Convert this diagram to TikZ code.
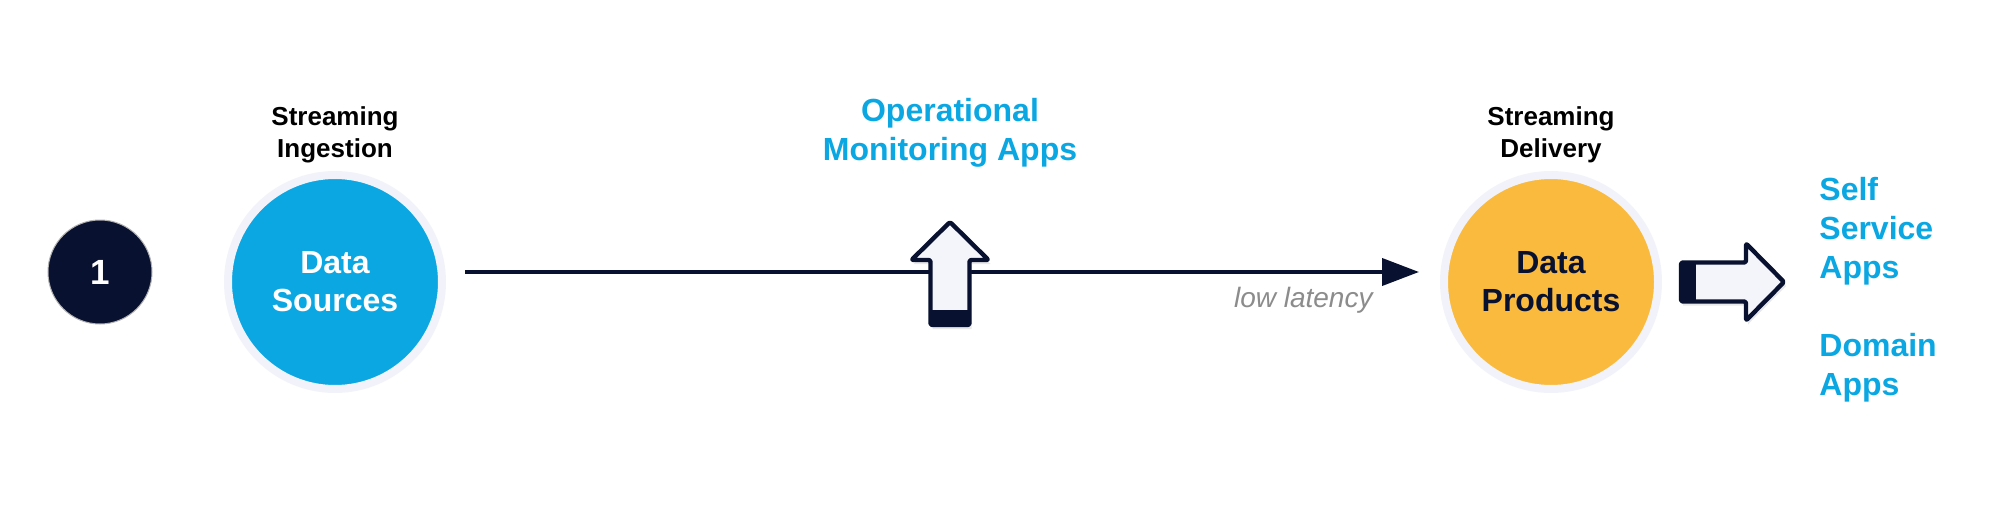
\documentclass[tikz,border=0pt]{standalone}
\usepackage{fontspec}
\setmainfont{Liberation Sans}
\usepackage{xcolor}
\usetikzlibrary{arrows.meta, positioning, shadows}

\definecolor{navy}{HTML}{08112F}
\definecolor{skyblue}{HTML}{0AA7E3}
\definecolor{amber}{HTML}{FABA3E}
\definecolor{halo}{HTML}{F2F3FA}
\definecolor{paleblock}{HTML}{F4F5FA}
\definecolor{latgray}{HTML}{8C8C8C}

\begin{document}
\begin{tikzpicture}[
    x=0.5pt, y=0.5pt,
    hub/.style={circle, draw=halo, line width=4pt, minimum size=107pt,
                inner sep=0pt, align=center,
                font=\fontsize{16}{19}\selectfont\bfseries},
    srchub/.style={hub, fill=skyblue, text=white},
    prodhub/.style={hub, fill=amber, text=navy},
    stage/.style={align=center, inner sep=0pt,
                  font=\fontsize{13}{16}\selectfont\bfseries},
    apps/.style={align=left, inner sep=0pt, text=skyblue,
                 font=\fontsize{16}{19.5}\selectfont\bfseries},
    lat/.style={inner sep=0pt, text=latgray,
                font=\fontsize{14}{16}\selectfont\itshape},
    flow/.style={-{Triangle[length=18.5pt, width=13.5pt]}, line width=2pt, draw=navy},
    blockarrow/.pic={
        \path[fill=paleblock, drop shadow={shadow xshift=1pt, shadow yshift=-2pt, opacity=.18}]
            (2,-19.5) -- (67,-19.5) -- (67,-38.5) -- (105,0) -- (67,38.5) -- (67,19.5) -- (2,19.5) -- cycle;
        \fill[navy] (2,-19.5) rectangle (17,19.5);
        \draw[navy, line width=2.2pt, line join=round, rounded corners=1pt]
            (2,-19.5) -- (67,-19.5) -- (67,-38.5) -- (105,0) -- (67,38.5) -- (67,19.5) -- (2,19.5) -- cycle;
    },
]
\fill[white] (0,0) rectangle (1999,510);
\useasboundingbox (0,0) rectangle (1999,510);

% Step badge
\node[circle, fill=navy, draw=gray!60, line width=0.5pt, minimum size=52pt, inner sep=0pt,
      text=white, font=\fontsize{17.5}{20}\selectfont\bfseries] (badge) at (100,238) {1};

% Ingestion and delivery hubs
\node[srchub] (src) at (335,228) {Data\\Sources};
\node[prodhub] (prod) at (1551,228) {Data\\Products};
\node[stage, above=4pt of src] (ingest) {Streaming\\Ingestion};
\node[stage, above=4pt of prod] (deliver) {Streaming\\Delivery};

% Low latency stream
\draw[flow, shorten <=9.5pt, shorten >=10.5pt] (src.east |- badge) -- (prod.west |- badge);
\node[lat, anchor=base east] (lowlat) at (1373,203) {low latency};

% Operational monitoring branch
\coordinate (opsbase) at (950,183);
\coordinate (opstip) at (950,290);
\pic[x={(0pt,0.5pt)}, y={(-0.5pt,0pt)}] (opsarrow) at (opsbase) {blockarrow};
\node[apps, align=center, above=26pt of opstip] (ops) {Operational\\Monitoring Apps};

% Consumers
\coordinate (outbase) at (1679,228);
\pic (outarrow) at (outbase) {blockarrow};
\node[apps, anchor=west] (selfapps) at (1819,279) {Self\\Service\\Apps};
\node[apps, below right=24pt and 0pt of selfapps.south west] (domapps) {Domain\\Apps};
\end{tikzpicture}
\end{document}
